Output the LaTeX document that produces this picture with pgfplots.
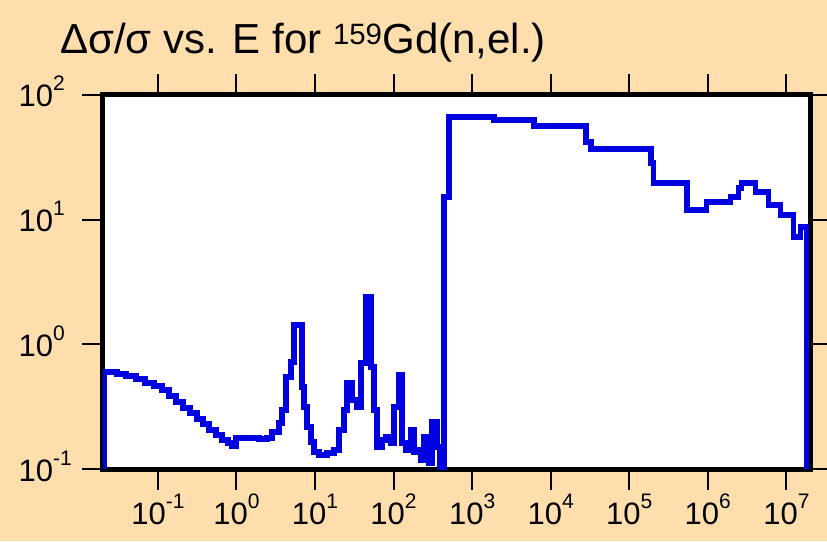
\documentclass[border=0pt]{standalone}
\usepackage{fontspec}
\setmainfont{Liberation Sans}
\usepackage{pgfplots}
\pgfplotsset{compat=1.18}
\definecolor{peach}{RGB}{253,222,172}
\definecolor{lineblue}{RGB}{0,0,225}
\newcommand\ex[1]{10\raisebox{16pt}{\fontsize{21}{21}\selectfont #1}}
\begin{document}
\begin{tikzpicture}[x=1pt,y=1pt]
\fill[peach] (0,0) rectangle (827,541);
\useasboundingbox (0,0) rectangle (827,541);
\node[anchor=base west, inner sep=0, font=\fontsize{42}{48}\selectfont] at (60,487)
  {Δσ/σ vs. E for \textsuperscript{159}Gd(n,el.)};
\begin{axis}[
  at={(103pt,72pt)}, anchor=south west,
  scale only axis, width=707pt, height=374pt,
  xmode=log, ymode=log,
  xmin=0.02, xmax=2e7, ymin=0.1, ymax=100,
  axis background/.style={fill=white},
  axis line style={line width=5pt},
  xtick={1e-1,1,10,100,1e3,1e4,1e5,1e6,1e7},
  xticklabels={\ex{-1},\ex{0},\ex{1},\ex{2},\ex{3},\ex{4},\ex{5},\ex{6},\ex{7}},
  ytick={0.1,1,10,100},
  yticklabels={\ex{-1},\ex{0},\ex{1},\ex{2}},
  xminorticks=false, yminorticks=false,
  tick align=outside,
  major tick length=21pt,
  tick style={line width=2pt,black},
  ticklabel style={font=\fontsize{31}{36}\selectfont},
  xticklabel style={anchor=base, yshift=-35pt},
  yticklabel style={anchor=base west, xshift=-67pt, yshift=-12pt},
]
\addplot[const plot, lineblue, line width=5.5pt] coordinates {
(0.0206,0.1) (0.0206,0.601) (0.0302,0.579) (0.0393,0.558) (0.0526,0.528)
(0.0685,0.490) (0.0892,0.464) (0.113,0.431) (0.138,0.386) (0.170,0.345)
(0.208,0.309) (0.256,0.282) (0.314,0.252) (0.375,0.230) (0.447,0.206)
(0.548,0.188) (0.654,0.171) (0.780,0.162) (0.877,0.153) (0.986,0.177)
(1.93,0.174) (2.44,0.178) (2.83,0.198) (3.47,0.234) (3.79,0.298)
(4.26,0.548) (4.93,0.723) (5.39,1.43) (6.81,0.455) (7.22,0.315)
(7.89,0.218) (8.87,0.165) (9.68,0.137) (11.2,0.130) (14.2,0.135)
(17.4,0.142) (20.1,0.206) (23.3,0.298) (25.5,0.490) (29.5,0.358)
(34.1,0.315) (38.4,0.710) (44.4,2.40) (51.4,0.659) (56.1,0.298)
(61.3,0.150) (71.0,0.171) (79.8,0.181) (92.4,0.162) (101,0.315)
(117,0.569) (128,0.162) (143,0.142) (166,0.206) (181,0.137)
(198,0.142) (222,0.118) (243,0.181) (281,0.112) (307,0.239)
(355,0.150) (388,0.1) (436,15.2) (506,66.6) (1890,63.0)
(6090,56.4) (28000,42.0) (32400,36.9) (188000,28.5) (205000,19.7)
(540000,12.0) (969000,13.9) (1.95e6,15.2) (2.47e6,17.9) (2.70e6,19.7)
(4.06e6,16.7) (5.95e6,13.1) (8.45e6,10.9) (1.24e7,7.27) (1.52e7,8.74)
(1.81e7,0.1)
};
\end{axis}
\end{tikzpicture}
\end{document}
